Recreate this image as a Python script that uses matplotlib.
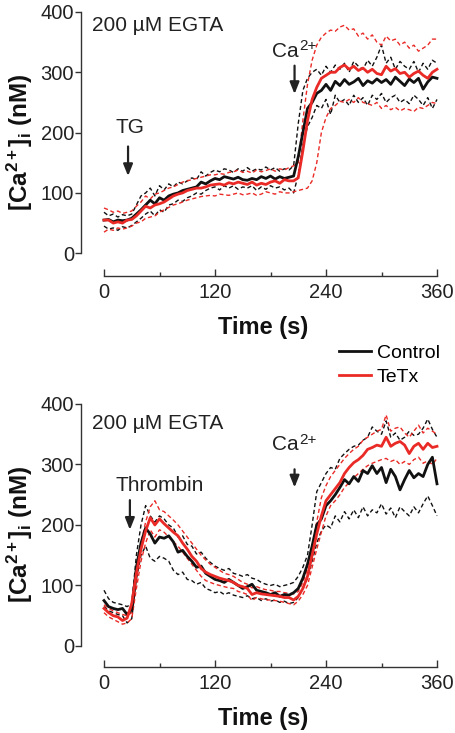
import numpy as np
import matplotlib
matplotlib.use("Agg")
import matplotlib.pyplot as plt

plt.rcParams['font.family'] = ['Liberation Sans', 'DejaVu Sans']
plt.rcParams['mathtext.fontset'] = 'custom'
plt.rcParams['mathtext.rm'] = 'Liberation Sans'
plt.rcParams['mathtext.it'] = 'Liberation Sans:italic'
plt.rcParams['mathtext.bf'] = 'Liberation Sans:bold'

# ---------------- data ----------------
time_s = np.arange(0, 361, 5)

# Panel A (TG)
tg_ctrl_mean = [55, 56, 52, 55, 54, 55, 58, 65, 72, 80, 88, 82, 92, 88, 95, 98, 100, 104, 106, 108,
                110, 118, 115, 120, 124, 122, 127, 125, 123, 126, 122, 121, 124, 122, 127, 124, 128, 123,
                127, 124, 126, 128, 160, 200, 240, 250, 265, 270, 280, 270, 285, 278, 288, 280, 284, 290,
                278, 286, 282, 289, 283, 288, 280, 292, 285, 278, 289, 283, 290, 272, 284, 292, 290]
tg_ctrl_upper = [68, 62, 65, 60, 64, 62, 65, 80, 95, 100, 108, 95, 112, 105, 115, 110, 118, 115, 120, 125,
                 122, 135, 128, 134, 138, 135, 140, 138, 134, 140, 136, 142, 136, 140, 138, 143, 138, 142,
                 136, 140, 138, 145, 215, 270, 290, 300, 305, 295, 310, 300, 312, 305, 315, 300, 318, 310,
                 305, 320, 310, 325, 345, 315, 325, 305, 318, 310, 305, 318, 300, 315, 305, 320, 315]
tg_ctrl_lower = [45, 40, 42, 38, 44, 42, 46, 52, 58, 65, 70, 62, 72, 68, 80, 82, 88, 86, 92, 95,
                 100, 98, 104, 108, 110, 105, 112, 108, 112, 106, 110, 108, 112, 104, 110, 106, 112, 108,
                 110, 105, 108, 100, 130, 180, 210, 225, 245, 240, 255, 230, 262, 250, 255, 245, 262, 250,
                 258, 245, 262, 255, 265, 250, 258, 262, 250, 255, 248, 262, 255, 245, 258, 240, 255]
tg_tetx_mean = [55, 55, 50, 52, 50, 55, 56, 62, 70, 78, 75, 80, 82, 85, 90, 95, 98, 100, 104, 106,
                108, 108, 110, 113, 114, 115, 113, 117, 115, 118, 116, 114, 118, 113, 116, 114, 118, 120,
                116, 122, 120, 120, 125, 170, 220, 255, 275, 290, 295, 300, 300, 308, 312, 305, 310, 303,
                307, 300, 305, 298, 296, 310, 302, 306, 298, 300, 292, 298, 302, 295, 290, 300, 305]
tg_tetx_upper = [75, 72, 68, 70, 66, 68, 70, 78, 85, 95, 90, 98, 100, 104, 108, 110, 114, 118, 120, 122,
                 124, 126, 128, 130, 130, 132, 131, 134, 135, 138, 134, 136, 133, 138, 135, 137, 140, 136,
                 140, 138, 142, 145, 150, 220, 280, 320, 345, 358, 365, 370, 368, 375, 378, 370, 372, 360,
                 365, 355, 362, 350, 345, 360, 352, 355, 345, 350, 340, 345, 335, 340, 345, 355, 355]
tg_tetx_lower = [35, 40, 38, 42, 40, 42, 45, 50, 52, 58, 60, 62, 68, 72, 76, 80, 82, 85, 88, 90,
                 92, 94, 95, 96, 95, 98, 97, 96, 98, 100, 97, 98, 100, 96, 98, 102, 100, 98,
                 102, 100, 100, 102, 104, 106, 108, 120, 150, 200, 225, 240, 245, 252, 250, 255, 250, 258,
                 250, 248, 245, 250, 240, 245, 238, 242, 236, 240, 238, 235, 242, 240, 245, 250, 248]

# Panel B (Thrombin)
th_ctrl_mean = [75, 65, 62, 60, 62, 52, 60, 130, 170, 195, 185, 170, 180, 178, 182, 172, 155, 158, 148, 140,
                130, 132, 120, 115, 110, 108, 105, 110, 105, 100, 95, 98, 102, 92, 90, 88, 85, 88,
                82, 85, 84, 88, 95, 112, 135, 165, 200, 210, 232, 240, 250, 262, 275, 268, 280, 272,
                290, 285, 298, 285, 295, 270, 292, 280, 258, 275, 290, 278, 285, 280, 300, 312, 268]
th_ctrl_upper = [92, 78, 72, 70, 68, 65, 70, 150, 200, 232, 215, 205, 215, 210, 200, 195, 180, 182, 168, 165,
                 152, 155, 145, 138, 132, 128, 125, 128, 120, 118, 115, 118, 112, 110, 105, 102, 100, 102,
                 98, 100, 102, 105, 115, 130, 150, 200, 255, 270, 285, 295, 292, 310, 318, 325, 330, 332,
                 340, 345, 362, 355, 350, 372, 345, 352, 340, 345, 355, 348, 350, 360, 375, 358, 345]
th_ctrl_lower = [65, 58, 55, 52, 50, 38, 45, 110, 150, 165, 145, 140, 148, 145, 140, 125, 118, 122, 110, 108,
                 102, 105, 95, 92, 88, 90, 85, 88, 84, 82, 80, 83, 78, 80, 75, 78, 74, 76,
                 72, 74, 70, 72, 80, 95, 112, 140, 170, 190, 200, 195, 215, 205, 222, 210, 225, 212,
                 230, 215, 225, 220, 235, 218, 228, 212, 230, 222, 215, 230, 220, 235, 248, 232, 215]
th_tetx_mean = [62, 55, 50, 48, 42, 46, 70, 120, 160, 190, 212, 200, 210, 202, 195, 188, 182, 170, 160, 148,
                140, 128, 122, 118, 115, 112, 110, 108, 105, 100, 98, 95, 85, 88, 86, 85, 84, 83,
                82, 80, 80, 76, 82, 95, 115, 150, 185, 215, 240, 250, 260, 270, 285, 295, 303, 308,
                315, 325, 328, 332, 330, 345, 330, 335, 338, 332, 318, 330, 335, 325, 335, 328, 330]
th_tetx_upper = [68, 62, 58, 55, 52, 50, 55, 110, 170, 205, 230, 240, 225, 222, 215, 208, 200, 190, 180, 170,
                 160, 150, 142, 135, 130, 125, 120, 118, 115, 110, 105, 102, 96, 98, 95, 93, 92, 90,
                 90, 88, 87, 86, 90, 105, 128, 165, 205, 245, 265, 280, 290, 300, 310, 318, 325, 330,
                 340, 345, 350, 355, 358, 382, 355, 360, 362, 352, 345, 355, 365, 352, 360, 355, 350]
th_tetx_lower = [55, 48, 44, 40, 36, 38, 45, 95, 140, 170, 192, 180, 192, 188, 180, 172, 165, 155, 145, 135,
                 125, 115, 108, 105, 102, 100, 98, 96, 95, 90, 88, 85, 75, 80, 78, 76, 76, 75,
                 74, 72, 70, 68, 74, 85, 100, 130, 160, 188, 215, 232, 240, 250, 262, 270, 278, 285,
                 292, 298, 302, 305, 308, 310, 305, 308, 300, 305, 300, 308, 312, 302, 306, 300, 310]

y_ticks = [0, 100, 200, 300, 400]
x_ticks = [0, 120, 240, 360]
x_minor = [60, 180, 300]
series_names = ["Control", "TeTx"]

RED = "#ea2a26"
BLACK = "#111111"
TXT = "#222222"

fig = plt.figure(figsize=(4.55, 7.33), dpi=100)
W, H = 455.0, 733.0


def axes_box(x_left_px, x_right_px, y_top_px, y_spine_px):
    return [x_left_px / W, 1 - y_spine_px / H, (x_right_px - x_left_px) / W, (y_spine_px - y_top_px) / H]


def setup(ax, y0_px, y400_px, spine_px):
    sx = (437 - 104) / 360.0
    ax.set_xlim(-(104 - 81) / sx, 360 + (445 - 437) / sx)
    sy = (y0_px - y400_px) / 400.0
    ax.set_ylim(-(spine_px - y0_px) / sy, 400 + 3 / sy)
    for s in ["top", "right"]:
        ax.spines[s].set_visible(False)
    ax.spines["left"].set_bounds(0, 400)
    ax.spines["bottom"].set_bounds(0, 360)
    for s in ["left", "bottom"]:
        ax.spines[s].set_linewidth(1.0)
        ax.spines[s].set_color("#333333")
    ax.set_yticks(y_ticks)
    ax.set_xticks(x_ticks)
    ax.set_xticks(x_minor, minor=True)
    ax.tick_params(axis="y", direction="out", length=4, width=1.0, color="#333333",
                   labelsize=14.5, pad=1, labelcolor=TXT)
    ax.tick_params(axis="x", which="major", direction="in", length=5, width=1.0,
                   color="#333333", labelsize=14.5, pad=5, labelcolor=TXT)
    ax.tick_params(axis="x", which="minor", direction="in", length=3, width=1.0, color="#333333")
    ax.set_xlabel("Time (s)", fontsize=17, fontweight="bold", labelpad=10, color="#111111")
    ax.set_ylabel(r"[Ca$^{\mathbf{2+}}$]$_{\mathbf{i}}$ (nM)", fontsize=17.5, fontweight="bold",
                  labelpad=4, color="#111111")
    ax.patch.set_alpha(0)


def draw(ax, cm, cu, cl, tm, tu, tl):
    dash = (0, (3.0, 2.0))
    for arr, col in [(cu, BLACK), (cl, BLACK), (tu, RED), (tl, RED)]:
        ax.plot(time_s, arr, color=col, lw=1.0, linestyle=dash)
    l1, = ax.plot(time_s, cm, color=BLACK, lw=2.0, label=series_names[0])
    l2, = ax.plot(time_s, tm, color=RED, lw=2.0, label=series_names[1])
    return l1, l2


def arrow(ax, x, y_from, y_to):
    ax.annotate("", xy=(x, y_to), xytext=(x, y_from),
                arrowprops=dict(arrowstyle="-|>,head_length=0.7,head_width=0.28", lw=1.6,
                                color=TXT, shrinkA=0, shrinkB=0))


def ca_label(ax, x, y):
    ax.text(x, y, "Ca", fontsize=15, color=TXT, ha="left", va="center")
    ax.annotate("2+", xy=(x, y), xytext=(19.6, 0.5), textcoords="offset points",
                fontsize=11, color=TXT, ha="left", va="baseline")


# Top panel
ax1 = fig.add_axes(axes_box(81, 445, 9, 276))
setup(ax1, 253, 9, 276)
draw(ax1, tg_ctrl_mean, tg_ctrl_upper, tg_ctrl_lower, tg_tetx_mean, tg_tetx_upper, tg_tetx_lower)
ax1.text(-13, 378, "200 µM EGTA", fontsize=15, color=TXT, ha="left", va="center")
ax1.text(28, 208, "TG", fontsize=15, color=TXT, ha="center", va="center")
arrow(ax1, 26, 177, 128)
ca_label(ax1, 181.5, 335)
arrow(ax1, 206, 311, 264)

# Bottom panel
ax2 = fig.add_axes(axes_box(81, 445, 401, 667))
setup(ax2, 645.7, 401, 667)
l1, l2 = draw(ax2, th_ctrl_mean, th_ctrl_upper, th_ctrl_lower, th_tetx_mean, th_tetx_upper, th_tetx_lower)
ax2.text(-13, 368, "200 µM EGTA", fontsize=15, color=TXT, ha="left", va="center")
ax2.text(60, 266, "Thrombin", fontsize=15, color=TXT, ha="center", va="center")
arrow(ax2, 28, 241, 192)
ca_label(ax2, 181.5, 333)
arrow(ax2, 206, 292, 262)

fig.legend(handles=[l1, l2], labels=series_names, loc="upper left",
           bbox_to_anchor=(339 / W, 1 - 344 / H), frameon=False, fontsize=14,
           handlelength=1.65, handletextpad=0.3, borderpad=0, borderaxespad=0,
           labelspacing=0.35)

fig.savefig("out.png", dpi=100)
